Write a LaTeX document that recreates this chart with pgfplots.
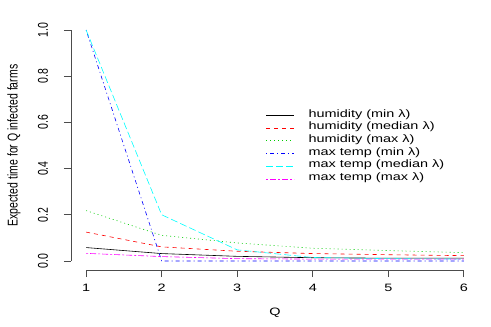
\documentclass[border=0pt]{standalone}
\usepackage{pgfplots}
\pgfplotsset{compat=1.18}
\usepackage{fontspec}
\setmainfont{Liberation Sans}[FakeStretch=1.35]
\newfontfamily\vfont{Liberation Sans}
\newcommand\vt[1]{\scalebox{1}[1.35]{\vfont\fontsize{10.5}{12}\selectfont #1}}
\definecolor{Rred}{HTML}{FF0000}
\definecolor{Rgreen}{HTML}{00CD00}
\definecolor{Rblue}{HTML}{0000FF}
\definecolor{Rcyan}{HTML}{00FFFF}
\definecolor{Rmag}{HTML}{FF00FF}
\begin{document}
\begin{tikzpicture}
\useasboundingbox (0,0) rectangle (491pt,327pt);
\begin{axis}[
  at={(71pt,56.8pt)}, anchor=south west,
  scale only axis, width=408pt, height=249.4pt,
  xmin=0.8, xmax=6.2, ymin=-0.04, ymax=1.04,
  axis x line*=bottom, axis y line*=left,
  axis line style={draw=none,-},
  xtick={1,2,3,4,5,6}, xticklabels={1,2,3,4,5,6},
  ytick={0,0.2,0.4,0.6,0.8,1.0},
  yticklabels={\vt{0.0},\vt{0.2},\vt{0.4},\vt{0.6},\vt{0.8},\vt{1.0}},
  tick align=outside, major tick length=7pt,
  major tick style={draw=black!70, line width=0.8pt},
  xticklabel style={font=\fontsize{10.7}{12}\selectfont, anchor=center, yshift=-11pt},
  yticklabel style={xshift=-21pt, rotate=90, anchor=center},
  xlabel={Q}, ylabel={\vt{Expected time for Q infected farms}},
  xlabel style={at={(axis description cs:0.5,-0.172)}, anchor=center, font=\fontsize{10.7}{12}\selectfont},
  ylabel style={at={(axis description cs:-0.1397,0.5)}, anchor=center, rotate=0},
  clip=false,
  legend style={draw=none, fill=none, at={(axis description cs:0.47,0.655)}, anchor=north west,
    font=\fontsize{10.7}{12}\selectfont, row sep=0pt,
    nodes={inner sep=0pt, text height=8pt, text depth=4.7pt},
    /tikz/every odd column/.append style={column sep=14pt}},
  legend cell align=left,
  legend image code/.code={\draw[#1] (0pt,0pt) -- (28pt,0pt);},
]
\draw[black!70, line width=0.8pt] (axis cs:1,-0.04) -- (axis cs:6,-0.04);
\draw[black!70, line width=0.8pt] (axis cs:0.8,0) -- (axis cs:0.8,1);
\addplot[color=black, line width=0.6pt] coordinates {(1,0.058) (2,0.032) (3,0.020) (4,0.014) (5,0.012) (6,0.012)};
\addlegendentry{humidity (min λ)}
\addplot[color=Rred, line width=0.6pt, dash pattern=on 4pt off 4pt] coordinates {(1,0.125) (2,0.061) (3,0.042) (4,0.032) (5,0.027) (6,0.023)};
\addlegendentry{humidity (median λ)}
\addplot[color=Rgreen, line width=0.6pt, dash pattern=on 1pt off 3pt] coordinates {(1,0.218) (2,0.111) (3,0.078) (4,0.055) (5,0.045) (6,0.036)};
\addlegendentry{humidity (max λ)}
\addplot[color=Rblue, line width=0.6pt, dash pattern=on 1pt off 3pt on 4pt off 3pt] coordinates {(1,1.0) (2,0.0) (3,0.0) (4,0.0) (5,0.0) (6,0.0)};
\addlegendentry{max temp (min λ)}
\addplot[color=Rcyan, line width=0.6pt, dash pattern=on 7pt off 3pt] coordinates {(1,1.0) (2,0.2) (3,0.048) (4,0.015) (5,0.010) (6,0.008)};
\addlegendentry{max temp (median λ)}
\addplot[color=Rmag, line width=0.6pt, dash pattern=on 2pt off 2pt on 6pt off 2pt] coordinates {(1,0.033) (2,0.019) (3,0.010) (4,0.008) (5,0.008) (6,0.008)};
\addlegendentry{max temp (max λ)}
\end{axis}
\end{tikzpicture}
\end{document}
